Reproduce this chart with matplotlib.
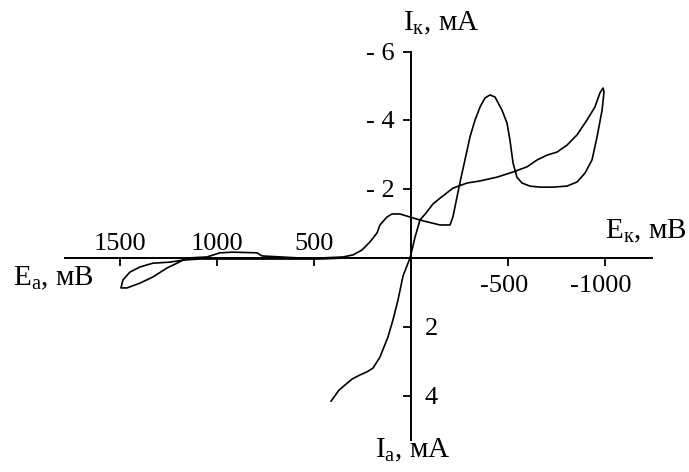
import matplotlib
matplotlib.use("Agg")
import matplotlib.pyplot as plt

plt.rcParams['font.family'] = ['Liberation Serif', 'DejaVu Serif']
plt.rcParams['mathtext.fontset'] = 'custom'
plt.rcParams['mathtext.rm'] = 'Liberation Serif'
plt.rcParams['mathtext.it'] = 'Liberation Serif:italic'

# potential, mV (anodic positive, drawn to the left)
E_mV = [412, 371, 304, 263, 227, 196, 160, 119, 93, 67, 41, 5,
        -5, -21, -46, -82, -113, -150, -216, -289, -356, -443, -526, -598,
        -650, -701, -753, -804, -856, -907, -948, -974, -990,
        -995, -985, -959, -933, -897, -856, -804, -732, -665, -613, -572,
        -546, -526, -510, -495, -469, -433, -407, -381, -356, -330, -304,
        -278, -253, -237, -216, -201, -150, -62, 5, 57, 98, 124, 160,
        175, 211, 253, 299, 351, 469, 572, 768, 794, 918, 985, 1052,
        1155, 1206, 1258, 1330, 1397, 1464, 1495,
        1485, 1449, 1397, 1330, 1242, 1175, 1088, 778, 469, 340]
# current, mA (cathodic negative, drawn upward)
I_mA = [4.16, 3.84, 3.52, 3.40, 3.31, 3.20, 2.88, 2.30, 1.80, 1.22, 0.52, 0.0,
        -0.23, -0.61, -1.10, -1.34, -1.57, -1.74, -2.03, -2.18, -2.24, -2.35, -2.50, -2.65,
        -2.85, -2.99, -3.08, -3.28, -3.58, -4.01, -4.39, -4.80, -4.94,
        -4.83, -4.30, -3.52, -2.85, -2.47, -2.21, -2.09, -2.06, -2.06, -2.09, -2.18,
        -2.35, -2.76, -3.43, -3.92, -4.30, -4.68, -4.74, -4.65, -4.39, -4.01, -3.52,
        -2.85, -2.21, -1.77, -1.19, -0.96, -0.96, -1.08, -1.19, -1.28, -1.28, -1.19, -0.96,
        -0.73, -0.47, -0.23, -0.09, -0.03, 0.0, 0.0, -0.06, -0.15, -0.17, -0.15, -0.03,
        0.0, 0.15, 0.29, 0.55, 0.73, 0.87, 0.87,
        0.64, 0.41, 0.26, 0.15, 0.12, 0.06, 0.03, 0.03, 0.03, 0.0]

x_ticks = [1500, 1000, 500, -500, -1000]
x_labels = ['1500', '1000', '500', '-500', '-1000']
y_ticks = [-6, -4, -2, 2, 4]
y_labels = ['- 6', '- 4', '- 2', '2', '4']

fig = plt.figure(figsize=(6.89, 4.72), dpi=100)
ax = fig.add_axes([0, 0, 1, 1])
ax.plot(E_mV, I_mA, color='black', lw=1.2)

ax.set_xlim(2118.6, -1433)
ax.set_ylim(6.221, -7.5)

for s in ['top', 'right']:
    ax.spines[s].set_visible(False)
ax.spines['left'].set_position(('data', 0))
ax.spines['bottom'].set_position(('data', 0))
ax.spines['left'].set_bounds(-6, 5.29)
ax.spines['bottom'].set_bounds(-1242, 1784)
ax.spines['left'].set_linewidth(1.4)
ax.spines['bottom'].set_linewidth(1.4)

ax.set_xticks(x_ticks)
ax.set_yticks(y_ticks)
ax.set_xticklabels([])
ax.set_yticklabels([])
ax.tick_params(direction='out', length=6, width=1.3)

fs = 19
for v, t in zip(x_ticks, x_labels):
    if v > 0:
        ax.text(v, -0.23, t, ha='center', va='baseline', fontsize=fs)
    else:
        ax.text(v + 20, 0.99, t, ha='center', va='baseline', fontsize=fs)
for v, t in zip(y_ticks, y_labels):
    if v < 0:
        ax.text(82, v + 0.23, t, ha='right', va='baseline', fontsize=fs)
    else:
        ax.text(-72, v + 0.23, t, ha='left', va='baseline', fontsize=fs)

fl = 21
ax.text(41, -6.63, r'I$_\mathregular{к}$, мА', ha='left', va='baseline', fontsize=fl)
ax.text(-1000, -0.58, r'E$_\mathregular{к}$, мВ', ha='left', va='baseline', fontsize=fl)
ax.text(2052, 0.785, r'E$_\mathregular{а}$, мВ', ha='left', va='baseline', fontsize=fl)
ax.text(186, 5.81, r'I$_\mathregular{а}$, мА', ha='left', va='baseline', fontsize=fl)

fig.savefig('out.png', dpi=100)
